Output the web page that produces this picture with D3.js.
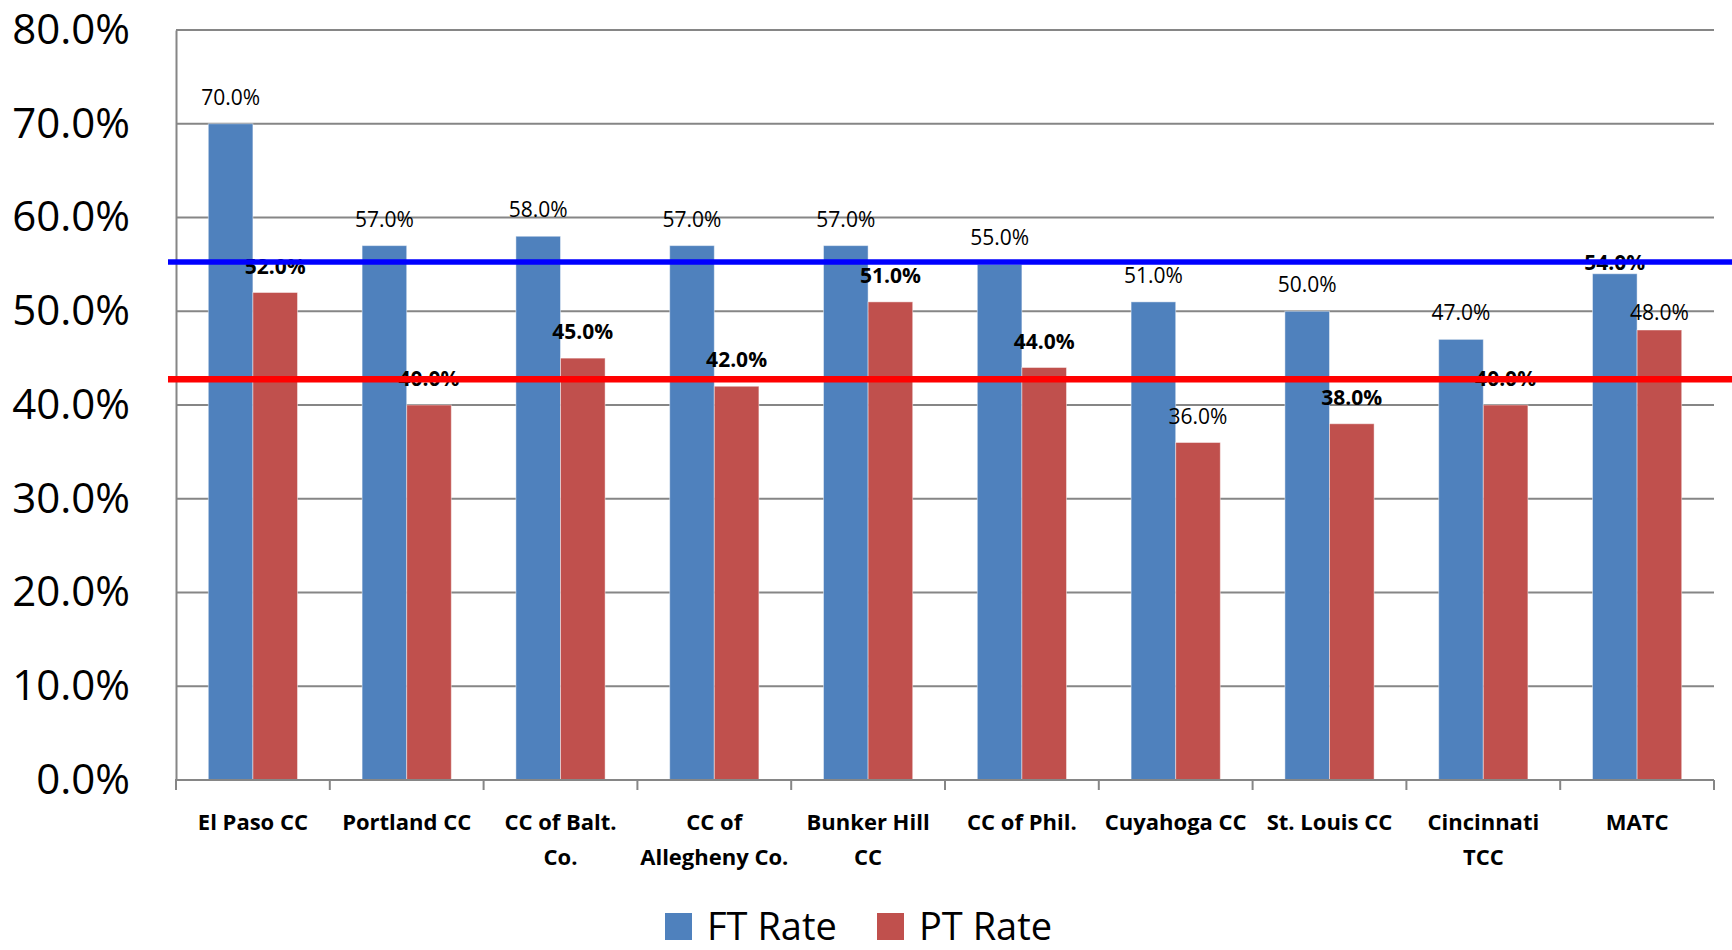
<!DOCTYPE html>
<html>
<head>
<meta charset="utf-8">
<script src="https://cdn.jsdelivr.net/npm/d3@7"></script>
<style>
  body { margin: 0; background: #fff; }
  text { font-family: "Open Sans", sans-serif; }
</style>
</head>
<body>
<svg id="chart"></svg>
<script>
// chart data
const categories = ["El Paso CC", "Portland CC", "CC of Balt.\nCo.", "CC of\nAllegheny Co.", "Bunker Hill\nCC",
  "CC of Phil.", "Cuyahoga CC", "St. Louis CC", "Cincinnati\nTCC", "MATC"];
const seriesNames = ["FT Rate", "PT Rate"];
const ftRate = [0.70, 0.57, 0.58, 0.57, 0.57, 0.55, 0.51, 0.50, 0.47, 0.54];
const ptRate = [0.52, 0.40, 0.45, 0.42, 0.51, 0.44, 0.36, 0.38, 0.40, 0.48];
const yTicks = [0, 0.1, 0.2, 0.3, 0.4, 0.5, 0.6, 0.7, 0.8];
const ftBenchmark = 0.5525;
const ptBenchmark = 0.4275;

// labels that were bolded / nudged in the original
const boldLabels = new Set(["PT Rate|0", "PT Rate|1", "PT Rate|2", "PT Rate|3", "PT Rate|4",
  "PT Rate|5", "PT Rate|7", "PT Rate|8", "FT Rate|9"]);
const labelNudge = { "FT Rate|9": 15, "PT Rate|9": 9 };

const colors = { "FT Rate": "#4F81BD", "PT Rate": "#C0504D" };

const width = 1732;
const height = 950;
const margin = { top: 30, right: 18, bottom: 170, left: 176 };

const svg = d3.select("#chart")
  .attr("width", width)
  .attr("height", height);

const rows = categories.map((c, i) => ({ name: c, i: i, "FT Rate": ftRate[i], "PT Rate": ptRate[i] }));

const x = d3.scaleBand()
  .domain(d3.range(categories.length))
  .range([margin.left, width - margin.right])
  .paddingInner(0.42)
  .paddingOuter(0.21);

const xSub = d3.scaleBand()
  .domain(seriesNames)
  .range([0, x.bandwidth()]);

const y = d3.scaleLinear()
  .domain([0, 0.8])
  .range([height - margin.bottom, margin.top]);

// gridlines
svg.append("g")
  .selectAll("line")
  .data(yTicks.filter(d => d > 0))
  .enter().append("line")
    .attr("x1", margin.left)
    .attr("x2", width - margin.right)
    .attr("y1", d => y(d))
    .attr("y2", d => y(d))
    .attr("stroke", "#868686")
    .attr("stroke-width", 2);

// y axis
const yAxis = svg.append("g")
  .attr("transform", `translate(${margin.left},0)`)
  .call(d3.axisLeft(y).tickValues(yTicks).tickFormat(d3.format(".1%")).tickSize(0).tickPadding(46));
yAxis.select(".domain").attr("stroke", "#868686").attr("stroke-width", 2);
yAxis.selectAll("text")
  .attr("font-size", 42)
  .attr("fill", "#000")
  .attr("font-family", "Open Sans");

// bars
const groups = svg.append("g")
  .selectAll("g")
  .data(rows)
  .enter().append("g")
    .attr("transform", d => `translate(${x(d.i)},0)`);

groups.selectAll("rect")
  .data(d => seriesNames.map(s => ({ key: s, value: d[s], i: d.i })))
  .enter().append("rect")
    .attr("x", d => xSub(d.key))
    .attr("y", d => y(d.value))
    .attr("width", xSub.bandwidth())
    .attr("height", d => y(0) - y(d.value))
    .attr("fill", d => colors[d.key])
    .attr("stroke", "#ffffff")
    .attr("stroke-opacity", 0.45)
    .attr("stroke-width", 1);

groups.selectAll("text.value")
  .data(d => seriesNames.map(s => ({ key: s, value: d[s], i: d.i })))
  .enter().append("text")
    .attr("class", "value")
    .attr("x", d => xSub(d.key) + xSub.bandwidth() / 2)
    .attr("y", d => y(d.value) - 19 + (labelNudge[d.key + "|" + d.i] || 0))
    .attr("text-anchor", "middle")
    .attr("font-size", 21)
    .attr("font-weight", d => boldLabels.has(d.key + "|" + d.i) ? "bold" : "normal")
    .attr("fill", "#000")
    .text(d => d3.format(".1%")(d.value));

// x axis
const baseY = y(0);
svg.append("line")
  .attr("x1", margin.left - 1)
  .attr("x2", width - margin.right)
  .attr("y1", baseY)
  .attr("y2", baseY)
  .attr("stroke", "#868686")
  .attr("stroke-width", 2);

const step = x.step();
svg.append("g")
  .selectAll("line")
  .data(d3.range(categories.length + 1))
  .enter().append("line")
    .attr("x1", i => margin.left + i * step)
    .attr("x2", i => margin.left + i * step)
    .attr("y1", baseY)
    .attr("y2", baseY + 10)
    .attr("stroke", "#868686")
    .attr("stroke-width", 2);

const catLabels = svg.append("g")
  .selectAll("text")
  .data(rows)
  .enter().append("text")
    .attr("x", d => x(d.i) + x.bandwidth() / 2)
    .attr("y", baseY + 50)
    .attr("text-anchor", "middle")
    .attr("font-size", 22)
    .attr("font-weight", "bold")
    .attr("fill", "#000");

catLabels.selectAll("tspan")
  .data(d => d.name.split("\n"))
  .enter().append("tspan")
    .attr("x", function() { return this.parentNode.getAttribute("x"); })
    .attr("dy", (d, i) => i === 0 ? 0 : 35)
    .text(d => d);

// benchmark lines drawn over everything
svg.append("line")
  .attr("x1", margin.left - 8)
  .attr("x2", width)
  .attr("y1", y(ftBenchmark))
  .attr("y2", y(ftBenchmark))
  .attr("stroke", "#0000FF")
  .attr("stroke-width", 5.5);

svg.append("line")
  .attr("x1", margin.left - 8)
  .attr("x2", width)
  .attr("y1", y(ptBenchmark))
  .attr("y2", y(ptBenchmark))
  .attr("stroke", "#FF0000")
  .attr("stroke-width", 6.5);

// legend
const legend = svg.append("g")
  .attr("transform", "translate(665,913)");

const legendItems = legend.selectAll("g")
  .data(seriesNames)
  .enter().append("g")
    .attr("transform", (d, i) => `translate(${i * 212},0)`);

legendItems.append("rect")
  .attr("width", 27)
  .attr("height", 27)
  .attr("fill", d => colors[d]);

legendItems.append("text")
  .attr("x", 42)
  .attr("y", 27)
  .attr("font-size", 38)
  .attr("fill", "#000")
  .text(d => d);
</script>
</body>
</html>
